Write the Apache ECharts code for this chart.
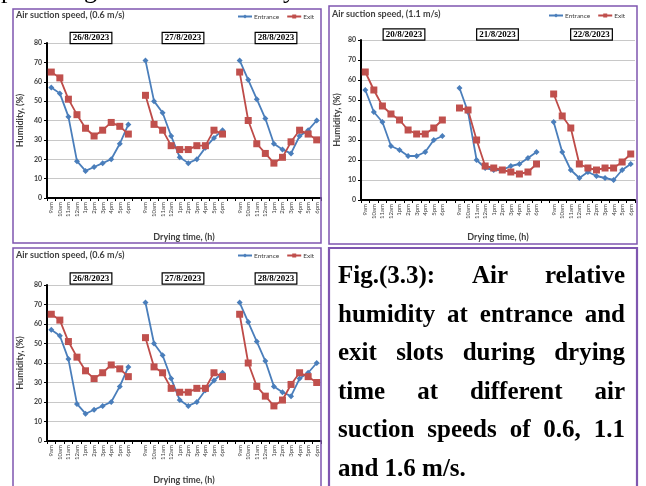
<!DOCTYPE html>
<html><head><meta charset="utf-8">
<script src="https://cdn.jsdelivr.net/npm/echarts@6/dist/echarts.min.js"></script>
<style>html,body{margin:0;padding:0;background:#fff}#c{width:646px;height:486px}</style>
</head><body><div id="c"></div><script>
// ---------- data ----------
const hours = ['9am','10am','11am','12am','1pm','2pm','3pm','4pm','5pm','6pm'];
const yMin = 0, yMax = 80, yStep = 10;

const dates06 = ['26/8/2023','27/8/2023','28/8/2023'];
const ent06_d1 = [57, 54, 42, 19, 14, 16, 18, 20, 28, 38];
const exit06_d1 = [65, 62, 51, 43, 36, 32, 35, 39, 37, 33];
const ent06_d2 = [71, 50, 44, 32, 21, 18, 20, 26, 31, 35];
const exit06_d2 = [53, 38, 35, 27, 25, 25, 27, 27, 35, 33];
const ent06_d3 = [71, 61, 51, 41, 28, 25, 23, 32, 35, 40];
const exit06_d3 = [65, 40, 28, 23, 18, 21, 29, 35, 33, 30];

const dates11 = ['20/8/2023','21/8/2023','22/8/2023'];
const ent11_d1 = [55, 44, 39, 27, 25, 22, 22, 24, 30, 32];
const exit11_d1 = [64, 55, 47, 43, 40, 35, 33, 33, 36, 40];
const ent11_d2 = [56, 44, 20, 16, 15, 15, 17, 18, 21, 24];
const exit11_d2 = [46, 45, 30, 17, 16, 15, 14, 13, 14, 18];
const ent11_d3 = [39, 24, 15, 11, 14, 12, 11, 10, 15, 18];
const exit11_d3 = [53, 42, 36, 18, 16, 15, 16, 16, 19, 23];

const captionLines = [
  ['Fig.(3.3):','Air','relative'],
  ['humidity','at','entrance','and'],
  ['exit','slots','during','drying'],
  ['time','at','different','air'],
  ['suction','speeds','of','0.6,','1.1'],
  ['and','1.6','m/s.']
];

// ---------- build ----------
const cats = hours.concat([''], hours, [''], hours);
const join3 = (a,b,c) => a.concat([null], b, [null], c);

const BLUE = '#4A7EBB', RED = '#BE4B48', PURPLE = '#7F56B0';
const SANS = 'Lato';
const SERIF = '"Liberation Serif"';

const panels = [
  {title:'Air suction speed, (0.6 m/s)', dates:dates06, ent:join3(ent06_d1,ent06_d2,ent06_d3), exit:join3(exit06_d1,exit06_d2,exit06_d3),
   grid:{left:47, top:43, width:274, height:155}, titlePos:[11,6], legendPos:[232,8], dateY:38, dateX:[91,183,276], xNameGap:35, yNameGap:22},
  {title:'Air suction speed, (1.1 m/s)', dates:dates11, ent:join3(ent11_d1,ent11_d2,ent11_d3), exit:join3(exit11_d1,exit11_d2,exit11_d3),
   grid:{left:361, top:40, width:274, height:160}, titlePos:[327,5], legendPos:[543,7], dateY:34.5, dateX:[404,497.5,591.5], xNameGap:33, yNameGap:19},
  {title:'Air suction speed, (0.6 m/s)', dates:dates06, ent:join3(ent06_d1,ent06_d2,ent06_d3), exit:join3(exit06_d1,exit06_d2,exit06_d3),
   grid:{left:47, top:285, width:274, height:159}, titlePos:[11,246], legendPos:[232,247], dateY:278.5, dateX:[91,183,276], xNameGap:35, yNameGap:22}
];

const option = {animation:false, backgroundColor:'#fff', title:[], legend:[], grid:[], xAxis:[], yAxis:[], series:[], graphic:[]};

panels.forEach((p,i) => {
  option.grid.push(Object.assign({containLabel:false}, p.grid));
  option.title.push({text:p.title, left:p.titlePos[0], top:p.titlePos[1],
    textStyle:{fontFamily:SANS, fontSize:9, fontWeight:'bold', color:'#404040'}});
  option.legend.push({left:p.legendPos[0], top:p.legendPos[1], width:120, orient:'horizontal',
    itemWidth:14, itemHeight:5, itemGap:7,
    textStyle:{fontFamily:SANS, fontSize:6.5, color:'#404040', padding:[0,0,0,-3]},
    data:['Entrance','Exit']});
  option.xAxis.push({type:'category', gridIndex:i, data:cats, boundaryGap:true,
    name:'Drying time, (h)', nameLocation:'middle', nameGap:p.xNameGap,
    nameTextStyle:{fontFamily:SANS, fontSize:9, fontWeight:'bold', color:'#404040'},
    axisLine:{lineStyle:{color:'#000', width:2}},
    axisTick:{show:true, interval:0, length:3, lineStyle:{color:'#000', width:1}},
    axisLabel:{interval:0, rotate:90, fontFamily:SANS, fontSize:6, color:'#404040', margin:4},
    splitLine:{show:false}});
  option.yAxis.push({type:'value', gridIndex:i, min:yMin, max:yMax, interval:yStep,
    name:'Humidity, (%)', nameLocation:'middle', nameGap:p.yNameGap, nameRotate:90,
    nameTextStyle:{fontFamily:SANS, fontSize:9, fontWeight:'bold', color:'#404040'},
    axisLine:{show:true, lineStyle:{color:'#000', width:2}},
    axisTick:{show:true, length:3, lineStyle:{color:'#000'}},
    axisLabel:{fontFamily:SANS, fontSize:7, fontWeight:'bold', color:'#404040', margin:5},
    splitLine:{lineStyle:{color:'#c8c8c8', width:1}}});
  option.series.push({name:'Entrance', type:'line', xAxisIndex:i, yAxisIndex:i, data:p.ent, connectNulls:false,
    symbol:'diamond', symbolSize:6, lineStyle:{color:BLUE, width:1.8}, itemStyle:{color:BLUE}});
  option.series.push({name:'Exit', type:'line', xAxisIndex:i, yAxisIndex:i, data:p.exit, connectNulls:false,
    symbol:'rect', symbolSize:7, lineStyle:{color:RED, width:1.8}, itemStyle:{color:'#C0504D'}});
  p.dates.forEach((d,k) => {
    option.graphic.push({type:'text', x:p.dateX[k], y:p.dateY, z:50,
      style:{text:d, font:'bold 9px '+SERIF, fill:'#000', align:'center', verticalAlign:'middle',
        backgroundColor:'#fff', borderColor:'#000', borderWidth:1.2, padding:[1,2,0,2]}});
  });
});

// frames
const frames = [[13,9,308,234],[329,6,308,238],[13,248,308,245],[329,248,308,245]];
frames.forEach((f,k) => option.graphic.push({type:'rect', z:60, shape:{x:f[0],y:f[1],width:f[2],height:f[3]},
  style:{fill:'none', stroke:PURPLE, lineWidth:k===3?2.2:1.5}}));

// cut-off text line at the very top
[['p',1],['g',84],['y',283]].forEach(g => option.graphic.push({type:'text', x:g[1], y:4, z:60,
  style:{text:g[0], font:'26px '+SERIF, fill:'#000', align:'left', verticalAlign:'bottom'}}));

// caption text, justified
const cv = document.createElement('canvas').getContext('2d');
const capFont = 'bold 25px ' + SERIF;
cv.font = capFont;
const L = 338, R = 625, base0 = 277, lh = 38.5;
captionLines.forEach((words, li) => {
  const y = base0 + li*lh;
  const ws = words.map(w => cv.measureText(w).width);
  const total = ws.reduce((a,b)=>a+b,0);
  const last = li === captionLines.length-1;
  const gap = last ? cv.measureText(' ').width : (R - L - total)/(words.length-1);
  let x = L;
  words.forEach((w,k) => {
    option.graphic.push({type:'text', x:x, y:y, z:60,
      style:{text:w, font:capFont, fill:'#000', align:'left', verticalAlign:'middle'}});
    x += ws[k] + gap;
  });
});

const chart = echarts.init(document.getElementById('c'), null, {renderer:'canvas'});
chart.setOption(option);
</script></body></html>
